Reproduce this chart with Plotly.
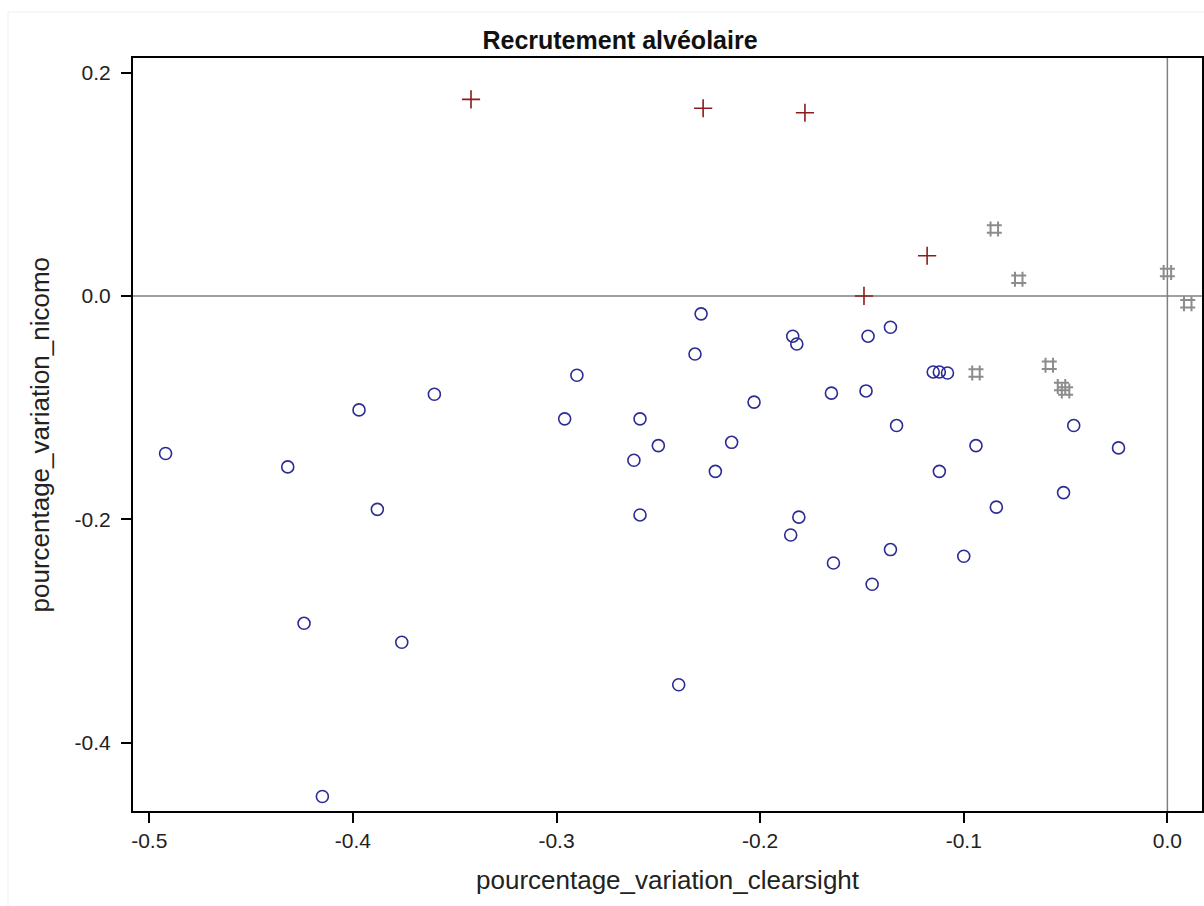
import plotly.graph_objects as go

# ---- data ----
blue_x = [-0.492, -0.432, -0.397, -0.360, -0.388, -0.424, -0.376, -0.415, -0.290, -0.296,
          -0.259, -0.250, -0.262, -0.259, -0.229, -0.232, -0.203, -0.214, -0.222, -0.240,
          -0.184, -0.182, -0.181, -0.185, -0.164, -0.165, -0.148, -0.147, -0.136, -0.133,
          -0.136, -0.145, -0.115, -0.112, -0.108, -0.112, -0.100, -0.094, -0.084, -0.046,
          -0.051, -0.024]
blue_y = [-0.141, -0.153, -0.102, -0.088, -0.191, -0.293, -0.310, -0.448, -0.071, -0.110,
          -0.110, -0.134, -0.147, -0.196, -0.016, -0.052, -0.095, -0.131, -0.157, -0.348,
          -0.036, -0.043, -0.198, -0.214, -0.239, -0.087, -0.085, -0.036, -0.028, -0.116,
          -0.227, -0.258, -0.068, -0.068, -0.069, -0.157, -0.233, -0.134, -0.189, -0.116,
          -0.176, -0.136]

red_x = [-0.342, -0.228, -0.178, -0.118, -0.149]
red_y = [0.176, 0.168, 0.164, 0.036, 0.0]

gray_x = [-0.085, -0.073, 0.000, 0.010, -0.094, -0.058, -0.052, -0.050]
gray_y = [0.060, 0.015, 0.021, -0.007, -0.069, -0.062, -0.081, -0.085]

x_ticks = [-0.5, -0.4, -0.3, -0.2, -0.1, 0.0]
x_ticklabels = ["-0.5", "-0.4", "-0.3", "-0.2", "-0.1", "0.0"]
y_ticks = [0.2, 0.0, -0.2, -0.4]
y_ticklabels = ["0.2", "0.0", "-0.2", "-0.4"]

title = "Recrutement alvéolaire"
x_title = "pourcentage_variation_clearsight"
y_title = "pourcentage_variation_nicomo"

FONT = "Liberation Sans, Arial, sans-serif"

# plot area in pixels (for placing text outside the axes)
L, R, T, B = 133, 1202, 58, 811
W, H = 1204, 906


def px_x(p):
    return (p - L) / (R - L)


def px_y(p):
    return (B - p) / (B - T)


fig = go.Figure()

fig.add_trace(go.Scatter(
    x=blue_x, y=blue_y, mode="markers", showlegend=False,
    marker=dict(symbol="circle-open", size=12, color="#2b2b95",
                line=dict(width=1.6, color="#2b2b95")),
))
fig.add_trace(go.Scatter(
    x=red_x, y=red_y, mode="markers", showlegend=False,
    marker=dict(symbol="cross-thin-open", size=13, color="#8b1c1c",
                line=dict(width=1.6, color="#8b1c1c")),
))
fig.add_trace(go.Scatter(
    x=gray_x, y=gray_y, mode="markers", showlegend=False,
    marker=dict(symbol="hash-open", size=15, color="#8c8c8c",
                line=dict(width=2, color="#8c8c8c")),
))

# reference lines at 0
fig.add_shape(type="line", xref="x", yref="paper", x0=0, x1=0, y0=0, y1=1,
              line=dict(color="#808080", width=1.5), layer="below")
fig.add_shape(type="line", xref="paper", yref="y", x0=0, x1=1, y0=0, y1=0,
              line=dict(color="#808080", width=1.5), layer="below")

# faint outer graph border (left and top edges)
fig.add_shape(type="line", xref="paper", yref="paper", x0=px_x(8), x1=px_x(8),
              y0=px_y(12), y1=px_y(W), line=dict(color="#efefef", width=1))
fig.add_shape(type="line", xref="paper", yref="paper", x0=px_x(8), x1=px_x(W),
              y0=px_y(12), y1=px_y(12), line=dict(color="#efefef", width=1))

axis_common = dict(
    showline=True, linecolor="black", linewidth=2, mirror=True,
    showgrid=False, zeroline=False,
    ticks="outside", ticklen=10, tickwidth=1.5, tickcolor="black",
    tickfont=dict(family=FONT, size=21, color="#222222"),
)

fig.update_xaxes(range=[-0.508, 0.017], tickvals=x_ticks, ticktext=x_ticklabels,
                 **axis_common)
fig.update_yaxes(range=[-0.461, 0.213], tickvals=y_ticks, ticktext=y_ticklabels,
                 ticklabelstandoff=6, **axis_common)

fig.add_annotation(text=x_title, xref="paper", yref="paper", x=0.5, y=px_y(880),
                   xanchor="center", yanchor="middle", showarrow=False,
                   font=dict(family=FONT, size=26, color="#222222"))
fig.add_annotation(text=y_title, xref="paper", yref="paper", x=px_x(39), y=0.5,
                   xanchor="center", yanchor="middle", showarrow=False, textangle=-90,
                   font=dict(family=FONT, size=26, color="#222222"))

fig.update_layout(
    width=W, height=H,
    margin=dict(l=L, r=W - R, t=T, b=H - B, autoexpand=False),
    paper_bgcolor="white", plot_bgcolor="white",
    title=dict(text=f"<b>{title}</b>", x=620 / W, xanchor="center",
               y=1 - 40 / H, yanchor="middle",
               font=dict(family=FONT, size=25, color="#111111")),
)

fig.write_html("out.html")
